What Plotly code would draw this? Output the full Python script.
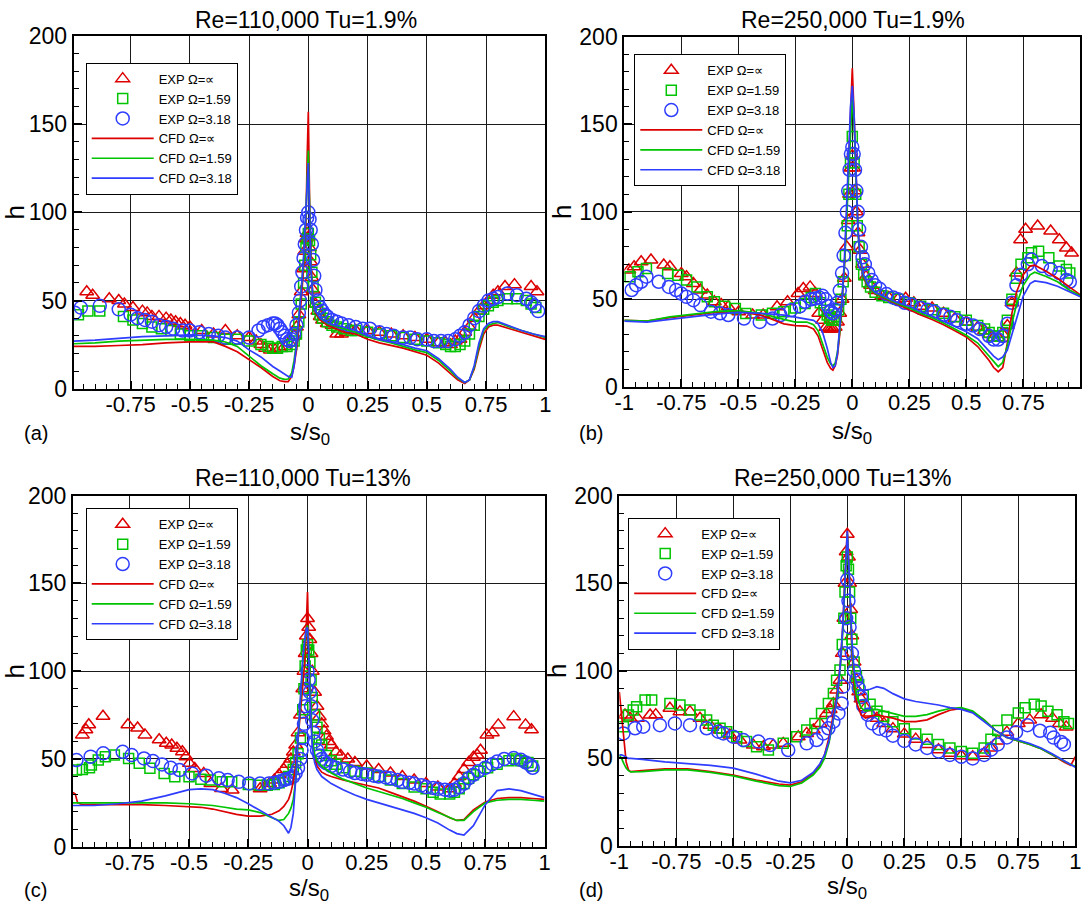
import plotly.graph_objects as go

# ---------------- Panel (a): Re=110,000 Tu=1.9% ----------------
A_EXP_INF_X = [-0.935,-0.91,-0.84,-0.80,-0.776,-0.74,-0.70,-0.68,-0.66,-0.63,-0.60,-0.58,-0.56,-0.54,-0.52,-0.50,-0.45,-0.40,-0.35,-0.30,-0.25,-0.22,-0.20,-0.18,-0.16,-0.14,-0.12,-0.10,-0.08,-0.06,-0.05,-0.04,-0.03,-0.02,-0.015,-0.01,-0.005,0.0,0.005,0.01,0.015,0.02,0.03,0.04,0.05,0.06,0.08,0.10,0.12,0.14,0.16,0.18,0.20,0.25,0.30,0.35,0.40,0.45,0.50,0.55,0.58,0.60,0.62,0.64,0.66,0.68,0.70,0.72,0.74,0.76,0.78,0.80,0.83,0.87,0.94,0.965]
A_EXP_INF_H = [55,53,51,50,48,46,44,43,41,41,40,39,38,37,36,35,33,31,33,30,29,27,25,23,22,22,23,24,26,30,35,42,55,68,78,85,88,86,80,72,63,56,48,44,41,39,37,36,31,31,32,33,33,33,32,31,30,29,28,26,26,25,27,28,32,35,40,44,47,50,53,55,58,59,58,55]
A_EXP_159_X = [-0.97,-0.93,-0.88,-0.78,-0.74,-0.70,-0.66,-0.62,-0.58,-0.54,-0.50,-0.45,-0.40,-0.35,-0.30,-0.25,-0.20,-0.17,-0.15,-0.13,-0.11,-0.09,-0.07,-0.06,-0.05,-0.04,-0.03,-0.02,-0.015,-0.01,-0.005,0.0,0.005,0.01,0.015,0.02,0.03,0.04,0.05,0.06,0.08,0.10,0.12,0.15,0.18,0.20,0.25,0.30,0.35,0.40,0.45,0.50,0.55,0.58,0.60,0.62,0.64,0.66,0.68,0.70,0.72,0.74,0.76,0.78,0.80,0.84,0.88,0.92,0.94,0.96]
A_EXP_159_H = [42,44,44,41,39,37,35,34,33,31,30,30,29,28,28,27,25,24,23,23,24,24,25,27,31,38,48,60,70,80,85,88,84,76,66,58,49,45,42,40,38,36,35,34,33,33,32,31,30,29,28,27,26,25,24,24,25,27,31,36,41,45,47,49,50,51,51,50,48,46]
A_EXP_318_X = [-0.985,-0.96,-0.88,-0.80,-0.75,-0.72,-0.69,-0.66,-0.63,-0.60,-0.57,-0.53,-0.50,-0.46,-0.42,-0.38,-0.35,-0.30,-0.25,-0.21,-0.19,-0.17,-0.15,-0.14,-0.13,-0.12,-0.11,-0.10,-0.09,-0.08,-0.07,-0.06,-0.05,-0.04,-0.035,-0.03,-0.025,-0.02,-0.015,-0.01,-0.005,0.0,0.005,0.01,0.015,0.02,0.025,0.03,0.04,0.05,0.06,0.07,0.08,0.10,0.12,0.14,0.17,0.20,0.23,0.26,0.30,0.33,0.36,0.40,0.43,0.46,0.50,0.53,0.56,0.59,0.62,0.64,0.66,0.68,0.70,0.72,0.74,0.76,0.78,0.80,0.84,0.88,0.92,0.94,0.955,0.97]
A_EXP_318_H = [43,46,47,45,42,40,39,38,36,35,34,33,33,32,31,30,29,29,29,33,35,36,37,37,36,34,32,30,28,27,28,31,36,43,50,58,66,74,82,90,97,100,96,90,82,73,64,56,50,46,44,42,41,39,38,37,36,35,34,34,32,31,30,29,29,28,28,27,27,27,28,30,32,36,40,44,47,50,51,52,54,53,51,49,47,44]
A_CFD_X = [-0.99,-0.9,-0.8,-0.7,-0.6,-0.5,-0.4,-0.35,-0.3,-0.25,-0.2,-0.15,-0.12,-0.1,-0.085,-0.07,-0.06,-0.05,-0.04,-0.03,-0.02,-0.01,-0.005,0.0,0.005,0.01,0.02,0.03,0.05,0.08,0.1,0.15,0.2,0.25,0.3,0.35,0.4,0.45,0.5,0.55,0.6,0.63,0.66,0.68,0.7,0.72,0.74,0.76,0.78,0.8,0.85,0.9,0.95,1.0]
A_CFD_INF_H = [24,24,24.5,25,26,26.5,26.5,24,21,16.7,12,6.9,4.5,4,4,7,13,22,35,50,68,95,130,157,110,75,50,43,39,36,35,32,31,28,26,24.5,23,21,19,14.5,8.5,5,3,5,11,22,31,35,36,36,34,32,30,28]
A_CFD_159_H = [25.5,26,27,27.5,28,28,27.5,26.5,24,18.5,13,8.5,6,5.3,5.5,9,16,26,40,55,72,100,125,135,105,72,50,44,40,37,36,34,32,29.5,27.5,26,24,22,20.5,16,10,6,3.5,5,12,24,33,36,37,37.5,35,33,31,29]
A_CFD_318_H = [27,27.5,28.5,29.5,30,30.5,30,29,27,22,18,12.6,10,8.5,7,6.5,13,25,40,55,75,100,120,128,100,70,50,44,40,37.5,36.5,35,33,30,28,26.5,25,23,21.5,17,11,6.5,3.5,5,13,26,34,37,38,38,35.5,33,31,29.5]

# ---------------- Panel (b): Re=250,000 Tu=1.9% ----------------
B_EXP_INF_X = [-0.98,-0.957,-0.926,-0.883,-0.827,-0.80,-0.75,-0.727,-0.697,-0.666,-0.636,-0.605,-0.575,-0.544,-0.498,-0.437,-0.391,-0.33,-0.284,-0.238,-0.215,-0.185,-0.162,-0.147,-0.13,-0.115,-0.105,-0.095,-0.085,-0.075,-0.065,-0.055,-0.045,-0.035,-0.025,-0.018,-0.012,-0.006,0.0,0.006,0.012,0.018,0.025,0.035,0.045,0.06,0.08,0.1,0.13,0.16,0.2,0.234,0.27,0.3,0.35,0.4,0.45,0.5,0.55,0.58,0.6,0.62,0.64,0.66,0.68,0.70,0.72,0.738,0.76,0.813,0.87,0.908,0.939,0.962]
B_EXP_INF_H = [66.7,68.6,71.5,72.5,69.6,68.6,64.8,62.9,59,55.3,52.4,48.6,47,45.7,42.9,41,41,45.7,48.6,53.3,56.2,57.1,53.3,42,38,34,33,33,33,34,37,42,50,62,80,95,110,125,132,125,112,100,88,78,70,63,58,55,52,51,50,50.6,48,46,45,42,39,37,34,32,30,28,28,30,35,48,65,84,90,91.9,89,84,79.3,76.4]
B_EXP_159_X = [-0.975,-0.94,-0.903,-0.81,-0.765,-0.727,-0.681,-0.636,-0.605,-0.56,-0.513,-0.467,-0.399,-0.35,-0.3,-0.25,-0.207,-0.18,-0.162,-0.14,-0.124,-0.11,-0.1,-0.09,-0.08,-0.07,-0.06,-0.05,-0.04,-0.03,-0.022,-0.015,-0.008,0.0,0.008,0.015,0.022,0.03,0.04,0.05,0.065,0.08,0.1,0.13,0.16,0.2,0.25,0.3,0.35,0.4,0.45,0.5,0.55,0.58,0.6,0.62,0.64,0.66,0.68,0.70,0.72,0.74,0.77,0.786,0.817,0.862,0.908,0.939,0.954]
B_EXP_159_H = [62.9,65.7,67.6,64.8,63.8,61,57.1,51.4,48.6,46,44.8,41.9,41,42,42.9,45,47.6,51,53.3,48,43.8,41,39,38,38,40,44,50,60,75,92,110,128,143,128,110,92,80,70,64,60,57,54,52,51,50,48,46,44,42,40,38,35,33,31,29,29,31,38,50,62,70,73.7,76.6,77.5,73.7,69,67,65]
B_EXP_318_X = [-0.968,-0.948,-0.926,-0.903,-0.849,-0.804,-0.773,-0.75,-0.727,-0.697,-0.666,-0.62,-0.58,-0.544,-0.475,-0.406,-0.35,-0.315,-0.269,-0.23,-0.207,-0.18,-0.162,-0.145,-0.131,-0.118,-0.106,-0.095,-0.085,-0.075,-0.065,-0.055,-0.045,-0.038,-0.03,-0.024,-0.018,-0.012,-0.006,0.0,0.006,0.012,0.018,0.024,0.03,0.038,0.045,0.055,0.07,0.085,0.1,0.12,0.15,0.18,0.2,0.23,0.26,0.3,0.33,0.36,0.4,0.43,0.46,0.5,0.53,0.56,0.6,0.62,0.64,0.66,0.68,0.70,0.72,0.74,0.77,0.786,0.832,0.87,0.908,0.939,0.954]
B_EXP_318_H = [55.3,58.1,60,62.9,60,57.1,55.3,53.3,51.4,49.5,46.7,42.9,42,41,39,37.1,39,41,43.8,46,48.6,50,50.5,51,52,50,46,43,42,44,48,55,65,75,88,100,112,124,133,137,133,124,112,100,90,80,74,70,65,61,58,56,53,51,50,48,47,45,44,43,41,40,38,36,35,33,29,27,27,29,36,48,58,64,70,72.7,69,67,65,61,60]
B_CFD_X = [-1.0,-0.9,-0.8,-0.7,-0.6,-0.5,-0.4,-0.3,-0.25,-0.2,-0.17,-0.15,-0.13,-0.11,-0.095,-0.085,-0.075,-0.065,-0.055,-0.045,-0.035,-0.025,-0.015,-0.008,0.0,0.008,0.015,0.025,0.035,0.05,0.07,0.1,0.15,0.2,0.25,0.3,0.35,0.4,0.45,0.5,0.55,0.6,0.62,0.64,0.66,0.68,0.7,0.72,0.75,0.78,0.8,0.85,0.9,0.95,1.0]
B_CFD_INF_H = [38,37.5,39.5,41,42.5,43,41,36,35,34.7,33,29,22,14,10.5,9.5,12,18,30,47,68,97,130,160,182,155,128,90,72,62,57,53,50,47,44,41,38.5,35.5,32,28.5,23,15,11,8.6,11,25,42,54,64,69,69.5,66,62,57,52.5]
B_CFD_159_H = [38,37.5,40,41.5,43,43.5,42,38.5,37,37,35.5,32,25,17,13,12,13.5,20,32,48,68,95,125,150,166,150,125,88,72,63,57.5,53.5,50.5,47.5,45,42,39.5,36.5,33,29.5,25,17.5,14,11.5,14,23.5,36,47,58,64,65.5,63,60,55.5,52]
B_CFD_318_H = [37.5,37,38.5,40,41.5,42.5,42,41,40,39,38,36,31,22,14,11,12,19,33,50,72,100,135,160,172,155,128,90,73,64,58,54,51,48,46,43,40.5,37.5,34.5,31.5,27.5,20.5,17.5,15.5,17,21,30,40,52,59,60.5,59.5,57.5,54.5,51.5]

# ---------------- Panel (c): Re=110,000 Tu=13% ----------------
C_EXP_INF_X = [-0.95,-0.935,-0.923,-0.863,-0.758,-0.717,-0.686,-0.626,-0.596,-0.573,-0.551,-0.528,-0.513,-0.498,-0.476,-0.438,-0.408,-0.363,-0.318,-0.2,-0.18,-0.16,-0.14,-0.12,-0.1,-0.085,-0.07,-0.06,-0.05,-0.04,-0.03,-0.02,-0.015,-0.01,-0.005,0.0,0.005,0.01,0.015,0.02,0.03,0.04,0.05,0.06,0.07,0.08,0.09,0.1,0.12,0.14,0.17,0.2,0.25,0.3,0.35,0.4,0.45,0.5,0.55,0.6,0.62,0.64,0.66,0.68,0.7,0.716,0.73,0.757,0.78,0.805,0.87,0.92,0.945]
C_EXP_INF_H = [63.7,66.6,69.5,74.3,69.5,67.6,63.7,60.9,59,58,56.1,54.1,51.3,47.5,44.6,41.8,36.1,33.2,32.3,33,34,36,38,41,44,47,50,54,58,65,75,90,100,110,120,130,125,118,110,100,88,80,74,70,66,63,60,58,54,52,50,48,46,44,42,40,38,36,34,33,36,40,44,48,51,52.3,55,63.7,65,69.4,74.1,69.4,66.6]
C_EXP_159_X = [-0.975,-0.95,-0.92,-0.912,-0.883,-0.853,-0.815,-0.755,-0.71,-0.665,-0.605,-0.56,-0.5,-0.45,-0.41,-0.36,-0.32,-0.25,-0.2,-0.17,-0.14,-0.12,-0.1,-0.08,-0.06,-0.05,-0.04,-0.03,-0.02,-0.015,-0.01,-0.005,0.0,0.005,0.01,0.015,0.02,0.03,0.04,0.05,0.06,0.08,0.1,0.12,0.15,0.2,0.25,0.3,0.35,0.4,0.45,0.5,0.53,0.56,0.6,0.62,0.64,0.66,0.68,0.7,0.73,0.76,0.8,0.85,0.88,0.9,0.93,0.95]
C_EXP_159_H = [43.7,44,45,46.5,49.4,51.3,52.2,50.3,47.5,44.7,41.8,39.9,39.9,38.5,38,37,37,35.5,35.1,35,35.5,36.5,38,40,44,48,53,62,78,90,103,112,115,112,105,95,85,75,68,62,58,52,49,47,45,43,42,40,38,36,34,33,31,30,30,31,33,36,39,41,43,45,47,49,50,49,48,46]
C_EXP_318_X = [-0.975,-0.915,-0.862,-0.78,-0.742,-0.69,-0.652,-0.614,-0.577,-0.54,-0.487,-0.427,-0.374,-0.337,-0.29,-0.246,-0.2,-0.163,-0.14,-0.12,-0.1,-0.09,-0.075,-0.06,-0.05,-0.04,-0.03,-0.025,-0.02,-0.015,-0.01,-0.005,0.0,0.005,0.01,0.015,0.02,0.025,0.03,0.04,0.05,0.06,0.07,0.08,0.1,0.12,0.15,0.18,0.2,0.23,0.25,0.28,0.3,0.33,0.35,0.38,0.4,0.43,0.45,0.48,0.5,0.53,0.55,0.58,0.6,0.62,0.64,0.66,0.68,0.7,0.72,0.75,0.78,0.8,0.83,0.87,0.9,0.92,0.94,0.95]
C_EXP_318_H = [49.4,51.3,53.2,54.1,52.2,50.3,48.8,46.9,45,43.7,41.8,40.5,39,38,37,36.1,36,36.1,36.5,37,38,38.5,39,40,42,45,50,55,62,70,80,90,100,95,88,80,72,65,60,55,52,50,48.5,47.5,46,45,44,43,42,41.5,41,40.5,40,39.5,39,38,37,36.5,36,35,34,33.5,33,32.5,32,32.5,34,36,39,41,43,45,47,48.5,50,50.5,49.5,48,46.5,45]
C_CFD_X = [-0.99,-0.98,-0.97,-0.95,-0.9,-0.8,-0.7,-0.6,-0.5,-0.45,-0.4,-0.35,-0.3,-0.25,-0.2,-0.15,-0.12,-0.1,-0.08,-0.07,-0.06,-0.05,-0.04,-0.03,-0.02,-0.01,-0.005,0.0,0.005,0.01,0.02,0.03,0.04,0.06,0.08,0.1,0.15,0.2,0.25,0.3,0.35,0.4,0.45,0.5,0.55,0.6,0.63,0.66,0.7,0.75,0.8,0.85,0.9,0.95,1.0]
C_CFD_INF_H = [31,30,25,24,24,24,24,23.5,23,22.5,21.5,20,18.5,17.5,17.5,18.5,20.5,23,27,31,37,46,60,78,92,108,125,145,115,88,60,50,46,42.5,41,40,38,36.5,35,33.5,31,28.5,26,23,20,16.5,15,15.5,21,25.5,27.5,28,28,27.5,27]
C_CFD_159_H = [25,25,25,25,25,25,25,25,24.5,24,23.5,22.5,21.5,21,19.5,16.5,15,15.5,19,22,27,38,60,85,105,118,124,126,115,95,62,53,49,46,44,42,38.5,36,33.5,31.5,29.5,27.5,25,22.5,19.5,16.5,15,15,20,25,26.5,27,27,26.5,26]
C_CFD_318_H = [23.5,23.5,23.5,23.5,23.5,24.5,26,29,32.5,33,32.5,30.5,28,24.5,20.5,17,14.5,12,7.7,11,19,38,60,88,108,120,124,125,110,85,57,48,44,40,38,36,32.5,29.5,27,25,23,21,19,16.5,13.5,9.5,7.5,6.7,12,24,32,33,32,30,28]

# ---------------- Panel (d): Re=250,000 Tu=13% ----------------
D_EXP_INF_X = [-0.975,-0.953,-0.92,-0.865,-0.84,-0.778,-0.734,-0.69,-0.646,-0.602,-0.558,-0.515,-0.471,-0.412,-0.368,-0.325,-0.281,-0.215,-0.178,-0.149,-0.12,-0.091,-0.075,-0.061,-0.047,-0.032,-0.022,-0.015,-0.01,-0.005,0.0,0.005,0.01,0.015,0.02,0.03,0.04,0.05,0.06,0.08,0.1,0.13,0.16,0.2,0.25,0.3,0.35,0.4,0.45,0.5,0.55,0.6,0.63,0.66,0.7,0.75,0.8,0.85,0.9,0.93,0.96]
D_EXP_INF_H = [74.8,72.9,73,74.8,75,78.6,76.7,76.7,72.9,69,66.2,63.4,60.5,57.6,56.7,57.6,58.6,62.4,64.3,66.2,70,75.7,78,81.4,89,94.7,110,130,150,168,178,165,150,135,120,105,95,88,84,79,76,73,70,67,64,61,58,55,53,51.5,51,53,56,60,65,70,72,75,73,70,68]
D_EXP_159_X = [-0.982,-0.96,-0.939,-0.924,-0.887,-0.858,-0.778,-0.734,-0.69,-0.646,-0.617,-0.588,-0.558,-0.529,-0.485,-0.442,-0.398,-0.346,-0.281,-0.222,-0.178,-0.142,-0.113,-0.083,-0.061,-0.047,-0.032,-0.022,-0.015,-0.01,-0.005,0.0,0.005,0.01,0.015,0.02,0.03,0.04,0.05,0.07,0.1,0.13,0.16,0.2,0.25,0.3,0.35,0.4,0.45,0.5,0.55,0.6,0.63,0.66,0.7,0.75,0.78,0.82,0.85,0.88,0.92,0.95,0.97]
D_EXP_159_H = [68.1,74.8,77.6,79.5,83.3,83.3,81.4,80.5,77.6,74.8,71.9,69,67.2,65.3,62.4,59.6,56.7,54.8,58.6,62.4,66.2,70,75.7,81.4,87.1,94.7,100.5,115,130,145,160,165,158,145,130,118,105,97,92,86,81,77,74,71,67,64,61,58,56,54,53,56,61,66,72,76,79,81,80,77,75,71,70]
D_EXP_318_X = [-0.982,-0.931,-0.895,-0.822,-0.756,-0.69,-0.617,-0.566,-0.544,-0.5,-0.456,-0.39,-0.339,-0.259,-0.178,-0.135,-0.105,-0.083,-0.061,-0.039,-0.025,-0.018,-0.01,-0.005,0.0,0.005,0.01,0.02,0.03,0.04,0.05,0.06,0.07,0.09,0.11,0.14,0.17,0.2,0.25,0.3,0.35,0.4,0.45,0.5,0.55,0.6,0.63,0.66,0.7,0.74,0.79,0.845,0.89,0.905,0.937,0.95]
D_EXP_318_H = [64.3,67.2,68.1,69,70,69,67.2,65.3,64.3,62.4,60.5,59.6,57.6,54.8,58.6,60.5,64.3,67.2,71,75.7,81.4,91,110,130,152,140,125,110,100,95,90,85,80,75,70,67,66,63,60,58,56,54,52,51,50,52,55,58,62,65,69,65.8,64.7,61.9,59.4,58]
D_CFD_X = [-1.0,-0.99,-0.98,-0.97,-0.96,-0.95,-0.9,-0.8,-0.7,-0.6,-0.5,-0.4,-0.3,-0.25,-0.2,-0.15,-0.12,-0.1,-0.08,-0.06,-0.05,-0.04,-0.03,-0.02,-0.01,0.0,0.01,0.02,0.03,0.04,0.06,0.08,0.1,0.13,0.16,0.2,0.25,0.3,0.35,0.4,0.45,0.5,0.55,0.6,0.65,0.7,0.75,0.8,0.85,0.9,0.95,0.98,1.0]
D_CFD_INF_H = [88,75,60,48,43.5,42.5,43,44,44,42.5,40.5,37.7,35.4,34.8,36.7,41.5,46,52,62,75,83,93,105,125,155,181,150,112,92,82,75,73,74,75,74,73,71,71,72,75,77.5,78.5,76.5,72,66,62,60,58,55.5,52,48,46,51]
D_CFD_159_H = [52,50,47,44.5,43,42.3,42.5,43.5,43.5,42,40,37,34.5,34,36,40.5,45,50,59,72,80,90,103,122,150,178,150,115,96,86,79,77,77.5,78,77,75.5,74,74,75,77,78.5,79,77,72,66,62,60,58,55.5,52,48.5,46.5,45.5]
D_CFD_318_H = [52,52,51.5,50.5,50,50,49.5,48,47,46,44.5,41,37,36,37.5,42,47,52,60,72,80,90,105,125,152,180,150,118,100,93,89,89,89.5,91,90,87,84,82.5,81.5,80.5,79,78,76,71,66,62,60.5,58.5,56,52.5,48.5,46.5,45]

# ---------------- Common text / tick labels ----------------
SERIES_NAMES = ["EXP \u03a9=\u221d", "EXP \u03a9=1.59", "EXP \u03a9=3.18",
                "CFD \u03a9=\u221d", "CFD \u03a9=1.59", "CFD \u03a9=3.18"]
PANEL_TITLES = ["Re=110,000 Tu=1.9%", "Re=250,000 Tu=1.9%",
                "Re=110,000 Tu=13%", "Re=250,000 Tu=13%"]
PANEL_LABELS = ["(a)", "(b)", "(c)", "(d)"]
X_TITLE = "s/s<sub>0</sub>"
Y_TITLE = "h"
X_TICK_VALS = [-1, -0.75, -0.5, -0.25, 0, 0.25, 0.5, 0.75, 1]
X_TICK_TEXT = ["-1", "-0.75", "-0.5", "-0.25", "0", "0.25", "0.5", "0.75", "1"]
Y_TICK_VALS = [0, 50, 100, 150, 200]
X_RANGES = [[-0.99, 1.0], [-1.0, 1.0], [-0.99, 1.0], [-1.0, 1.0]]

# ---------------- Styling ----------------
W, H = 1086, 904
ML, MR, MT, MB = 0, 0, 0, 40          # page margins (px)
PW, PH = W - ML - MR, H - MT - MB     # size of the "paper" plotting region
FONT = "Liberation Sans, Arial, sans-serif"
RED, GREEN, BLUE = "#dc0000", "#00c400", "#2f3dff"
COLORS = [RED, GREEN, BLUE]
SYMBOLS = ["triangle-up-open", "square-open", "circle-open"]
MSIZES = [12, 10, 13]


def fx(px):
    return (px - ML) / PW


def fy(py):
    return 1 - (py - MT) / PH


# plot boxes in page pixels: (left, right, top, bottom)
BOXES = [(73.7, 545.3, 36.0, 388.7), (624.3, 1080.3, 36.8, 386.8),
         (72.9, 544.5, 495.5, 846.8), (619.3, 1075.3, 495.7, 846.0)]
LEGEND_POS = [(85.7, 62.7), (634.3, 54.3), (85.7, 508.3), (628.2, 517.7)]
TITLE_POS = [(306, 20), (853, 20), (303, 478), (842, 478)]
LABEL_POS = [(22, 433), (577, 433), (22, 890), (577, 890)]
XTITLE_Y = [433, 432, 889, 888]

panels = [
    ([(A_EXP_INF_X, A_EXP_INF_H), (A_EXP_159_X, A_EXP_159_H), (A_EXP_318_X, A_EXP_318_H)],
     [(A_CFD_X, A_CFD_INF_H), (A_CFD_X, A_CFD_159_H), (A_CFD_X, A_CFD_318_H)]),
    ([(B_EXP_INF_X, B_EXP_INF_H), (B_EXP_159_X, B_EXP_159_H), (B_EXP_318_X, B_EXP_318_H)],
     [(B_CFD_X, B_CFD_INF_H), (B_CFD_X, B_CFD_159_H), (B_CFD_X, B_CFD_318_H)]),
    ([(C_EXP_INF_X, C_EXP_INF_H), (C_EXP_159_X, C_EXP_159_H), (C_EXP_318_X, C_EXP_318_H)],
     [(C_CFD_X, C_CFD_INF_H), (C_CFD_X, C_CFD_159_H), (C_CFD_X, C_CFD_318_H)]),
    ([(D_EXP_INF_X, D_EXP_INF_H), (D_EXP_159_X, D_EXP_159_H), (D_EXP_318_X, D_EXP_318_H)],
     [(D_CFD_X, D_CFD_INF_H), (D_CFD_X, D_CFD_159_H), (D_CFD_X, D_CFD_318_H)]),
]

fig = go.Figure()
layout = dict(
    template="none",
    width=W, height=H, margin=dict(l=ML, r=MR, t=MT, b=MB, autoexpand=False),
    paper_bgcolor="white", plot_bgcolor="white",
    font=dict(family=FONT, color="black", size=21),
    annotations=[],
)

for i, (exp, cfd) in enumerate(panels):
    n = "" if i == 0 else str(i + 1)
    xa, ya = "x" + n, "y" + n
    lg = "legend" + n
    for k, (xs, hs) in enumerate(exp):
        fig.add_trace(go.Scatter(
            x=xs, y=hs, mode="markers", name=SERIES_NAMES[k], xaxis=xa, yaxis=ya,
            legend=lg,
            marker=dict(symbol=SYMBOLS[k], size=MSIZES[k], color=COLORS[k],
                        line=dict(width=1.5, color=COLORS[k]))))
    for k, (xs, hs) in enumerate(cfd):
        fig.add_trace(go.Scatter(
            x=xs, y=hs, mode="lines", name=SERIES_NAMES[3 + k], xaxis=xa, yaxis=ya,
            legend=lg, line=dict(color=COLORS[k], width=1.7)))

    lo, hi = X_RANGES[i]
    tv = [v for v in X_TICK_VALS if lo - 1e-9 <= v <= hi + 1e-9]
    tt = [t for v, t in zip(X_TICK_VALS, X_TICK_TEXT) if lo - 1e-9 <= v <= hi + 1e-9]

    l, r, t, b = BOXES[i]
    layout["xaxis" + n] = dict(
        domain=[fx(l), fx(r)], range=X_RANGES[i], anchor=ya, automargin=False,
        tickmode="array", tickvals=tv, ticktext=tt, ticklabelstandoff=-5,
        ticks="inside", ticklen=8, tickwidth=1.5, tickcolor="black",
        minor=dict(tickmode="linear", tick0=0, dtick=0.05, ticks="inside",
                   ticklen=5, tickwidth=1.2, tickcolor="black", showgrid=False),
        showgrid=True, gridcolor="#1a1a1a", gridwidth=1.2, zeroline=False,
        showline=True, linecolor="black", linewidth=2, mirror=True,
        tickfont=dict(size=22, family=FONT, color="black"),
    )
    layout["yaxis" + n] = dict(
        domain=[fy(b), fy(t)], range=[0, 200], anchor=xa, automargin=False,
        tickmode="array", tickvals=Y_TICK_VALS,
        ticks="inside", ticklen=8, tickwidth=1.5, tickcolor="black",
        minor=dict(tickmode="linear", tick0=0, dtick=10, ticks="inside",
                   ticklen=5, tickwidth=1.2, tickcolor="black", showgrid=False),
        showgrid=True, gridcolor="#1a1a1a", gridwidth=1.2, zeroline=False,
        showline=True, linecolor="black", linewidth=2, mirror=True,
        tickfont=dict(size=23, family=FONT, color="black"),
        title=dict(text=Y_TITLE, font=dict(size=26, family=FONT), standoff=0),
    )
    lx, ly = LEGEND_POS[i]
    layout[lg] = dict(
        x=fx(lx), y=fy(ly), xanchor="left", yanchor="top",
        bgcolor="white", bordercolor="black", borderwidth=1,
        font=dict(size=13, family=FONT, color="black"),
        itemwidth=62, tracegroupgap=0, traceorder="normal",
    )
    # x-axis title, centred under the plot box
    layout["annotations"].append(dict(
        text=X_TITLE, x=fx((l + r) / 2), y=fy(XTITLE_Y[i]), xref="paper", yref="paper",
        xanchor="center", yanchor="middle", showarrow=False,
        font=dict(size=24, family=FONT, color="black")))
    tx, ty = TITLE_POS[i]
    layout["annotations"].append(dict(
        text=PANEL_TITLES[i], x=fx(tx), y=fy(ty), xref="paper", yref="paper",
        xanchor="center", yanchor="middle", showarrow=False,
        font=dict(size=23, family=FONT, color="black")))
    px_, py_ = LABEL_POS[i]
    layout["annotations"].append(dict(
        text=PANEL_LABELS[i], x=fx(px_), y=fy(py_), xref="paper", yref="paper",
        xanchor="left", yanchor="middle", showarrow=False,
        font=dict(size=20, family=FONT, color="black")))

fig.update_layout(**layout)
fig.write_html("out.html")
